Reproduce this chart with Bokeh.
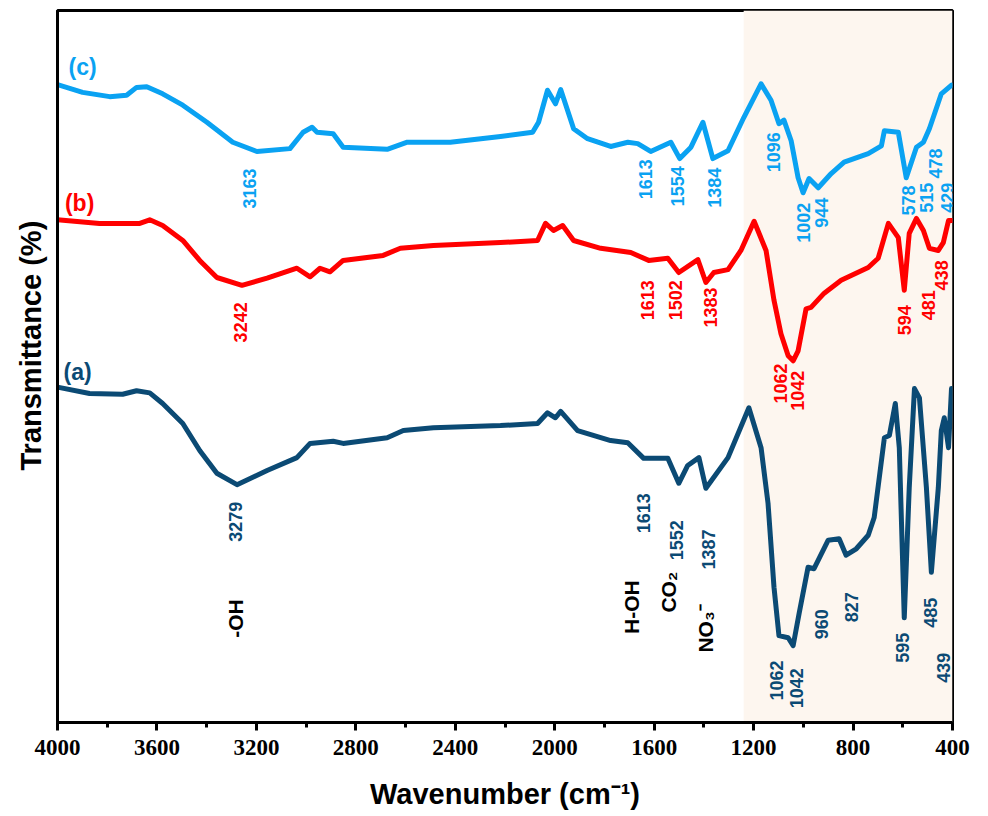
from math import pi
from bokeh.plotting import figure
from bokeh.models import Range1d, SingleIntervalTicker, BoxAnnotation, ColumnDataSource, Title
from bokeh.core.properties import value
from bokeh.embed import file_html
from bokeh.resources import INLINE

# ---------------- data (wavenumber, transmittance a.u.) ----------------
wn_a = [4000, 3871, 3738, 3682, 3629, 3577, 3496, 3428, 3359, 3278, 3157, 3037, 2984, 2891, 2851,
        2674, 2609, 2488, 2218, 2069, 2029, 1997, 1976, 1908, 1775, 1706, 1642, 1545, 1501, 1465,
        1420, 1392, 1303, 1219, 1170, 1142, 1118, 1098, 1061, 1041, 1017, 981, 957, 900, 856,
        828, 787, 739, 715, 674, 654, 630, 614, 594, 574, 553, 533, 505, 485, 457,
        445, 433, 416, 404]
t_a = [47.1, 46.2, 46.1, 46.6, 46.3, 44.8, 42.0, 38.2, 35.0, 33.4, 35.4, 37.2, 39.2, 39.5, 39.2,
       40.0, 41.0, 41.4, 41.7, 42.0, 43.5, 42.8, 43.7, 41.0, 39.6, 39.3, 37.1, 37.1, 33.6, 36.1,
       37.2, 32.9, 37.2, 44.2, 38.6, 30.8, 19.0, 12.2, 11.9, 10.8, 15.3, 21.8, 21.6, 25.6, 25.8,
       23.5, 24.4, 26.3, 28.8, 40.0, 40.3, 44.8, 38.6, 14.7, 33.0, 46.9, 45.6, 33.0, 21.1, 33.0,
       41.0, 42.8, 38.6, 46.9]

wn_b = [4000, 3831, 3669, 3629, 3577, 3496, 3428, 3359, 3258, 3157, 3037, 2984, 2944, 2904, 2851,
        2690, 2621, 2488, 2218, 2069, 2037, 2005, 1968, 1924, 1815, 1694, 1622, 1545, 1501, 1424,
        1392, 1360, 1303, 1251, 1198, 1150, 1118, 1090, 1061, 1041, 1021, 989, 969, 916, 848,
        739, 699, 658, 618, 594, 574, 545, 517, 493, 457, 437, 416, 400]
t_b = [70.6, 70.1, 70.1, 70.6, 69.8, 67.7, 64.9, 62.5, 61.4, 62.4, 63.8, 62.6, 63.8, 63.3, 64.9,
       65.6, 66.6, 67.0, 67.4, 67.7, 70.1, 69.1, 69.8, 67.7, 66.6, 66.0, 64.9, 65.2, 63.2, 65.0,
       61.8, 63.2, 63.6, 66.3, 70.4, 66.3, 59.3, 54.6, 51.5, 50.8, 52.2, 58.1, 58.3, 60.3, 62.1,
       63.9, 65.2, 70.1, 68.1, 60.7, 68.7, 70.8, 69.1, 66.6, 66.3, 67.4, 70.5, 70.5]

wn_c = [4000, 3899, 3790, 3722, 3682, 3641, 3577, 3496, 3399, 3295, 3198, 3065, 3012, 2976, 2956,
        2891, 2851, 2674, 2593, 2420, 2218, 2089, 2065, 2029, 1997, 1976, 1924, 1868, 1775, 1706,
        1666, 1614, 1533, 1497, 1452, 1404, 1364, 1303, 1239, 1170, 1130, 1098, 1078, 1049, 1021,
        1001, 977, 940, 888, 836, 739, 686, 674, 618, 586, 545, 517, 493, 445, 404]
t_c = [89.6, 88.5, 87.9, 88.1, 89.2, 89.3, 88.3, 86.7, 84.3, 81.5, 80.2, 80.6, 82.9, 83.6, 82.9,
       82.7, 80.8, 80.5, 81.5, 81.5, 82.3, 82.9, 84.3, 88.8, 86.9, 88.9, 83.4, 82.0, 80.9, 81.5,
       81.3, 80.2, 81.5, 79.2, 80.8, 84.3, 79.2, 80.3, 85.0, 89.7, 87.4, 84.1, 84.6, 81.7, 76.5,
       74.4, 76.4, 75.1, 77.1, 78.7, 79.9, 81.0, 83.1, 82.9, 76.5, 80.8, 81.5, 83.4, 88.3, 89.5]

# peak labels
lab_a = ["3279", "1613", "1552", "1387", "1062", "1042", "960", "827", "595", "485", "439"]
lab_a_x = [3286, 1642, 1509, 1380, 1106, 1029, 928, 807, 602, 489, 437]
lab_a_y = [28.2, 29.4, 25.6, 24.3, 5.9, 4.8, 13.8, 16.2, 10.5, 15.4, 7.7]

lab_b = ["3242", "1613", "1502", "1383", "1062", "1042", "594", "481", "438"]
lab_b_x = [3262, 1626, 1513, 1372, 1090, 1025, 594, 497, 445]
lab_b_y = [56.2, 59.3, 59.3, 58.3, 47.6, 46.6, 56.5, 58.6, 62.8]

lab_c = ["3163", "1613", "1554", "1384", "1096", "1002", "944", "578", "515", "478", "429"]
lab_c_x = [3226, 1634, 1505, 1356, 1118, 1001, 928, 578, 505, 469, 420]
lab_c_y = [75.0, 76.3, 75.3, 75.1, 80.1, 70.2, 71.6, 73.3, 73.7, 78.5, 73.7]

grp = ["-OH", "H-OH", "CO\u2082", "NO\u2083\u207b"]
grp_x = [3286, 1690, 1541, 1392]
grp_y = [14.6, 16.2, 18.3, 13.2]

series_names = ["(c)", "(b)", "(a)"]
series_x = [3899, 3911, 3919]
series_y = [92.0, 73.0, 49.2]

shade_from = 1240
shade_to = 400

C_A = "#0b4a74"
C_B = "#ff0000"
C_C = "#0aa2f2"

# ---------------- figure ----------------
p = figure(width=988, height=816, x_range=Range1d(4000, 400), y_range=Range1d(0, 100),
           output_backend="svg", toolbar_location=None,
           min_border_left=57, min_border_right=36, min_border_top=10, min_border_bottom=94)
p.background_fill_color = "white"
p.border_fill_color = "white"
p.xgrid.visible = False
p.ygrid.visible = False
p.outline_line_color = "black"
p.outline_line_width = 3
p.outline_line_alpha = 1

p.add_layout(BoxAnnotation(left=shade_to, right=shade_from, fill_color="#fdf6ef",
                           fill_alpha=1, line_color=None, level="underlay"))

for xs, ys, col in [(wn_a, t_a, C_A), (wn_b, t_b, C_B), (wn_c, t_c, C_C)]:
    p.line(xs, ys, line_color=col, line_width=5, line_join="round", line_cap="round")

FONT = value("Liberation Sans")

def rot_labels(txt, xs, ys, col, size):
    src = ColumnDataSource(dict(x=xs, y=ys, t=txt))
    p.text(x="x", y="y", text="t", source=src, angle=pi / 2, text_align="center",
           text_baseline="middle", text_font=FONT, text_font_style="bold",
           text_font_size=size, text_color=col)

rot_labels(lab_a, lab_a_x, lab_a_y, C_A, "18px")
rot_labels(lab_b, lab_b_x, lab_b_y, C_B, "18px")
rot_labels(lab_c, lab_c_x, lab_c_y, C_C, "18px")
rot_labels(grp, grp_x, grp_y, "black", "21px")

p.text(x=series_x, y=series_y, text=series_names, text_align="center", text_baseline="middle",
       text_font=FONT, text_font_style="bold", text_font_size="23px",
       text_color=[C_C, C_B, C_A])

# axes
xa = p.xaxis[0]
xa.ticker = SingleIntervalTicker(interval=400, num_minor_ticks=2)
xa.axis_line_width = 3
xa.major_tick_line_width = 3
xa.minor_tick_line_width = 3
xa.major_tick_out = 8
xa.major_tick_in = 0
xa.minor_tick_out = 5
xa.minor_tick_in = 0
xa.major_label_text_font = "Liberation Sans Narrow"
xa.major_label_text_font_style = "bold"
xa.major_label_text_font_size = "23px"
xa.major_label_text_color = "black"
xa.major_label_standoff = 9
xa.axis_label = "Wavenumber (cm\u207b\u00b9)"
xa.axis_label_text_font = "Liberation Sans"
xa.axis_label_text_font_style = "bold"
xa.axis_label_text_font_size = "29px"
xa.axis_label_text_color = "black"
xa.axis_label_standoff = 20

ya = p.yaxis[0]
ya.axis_line_width = 3
ya.major_tick_line_color = None
ya.minor_tick_line_color = None
ya.major_label_text_font_size = "0px"
ya.major_label_text_color = None

p.add_layout(Title(text="Transmittance (%)", align="left", offset=252, standoff=9,
                   text_font="Liberation Sans", text_font_style="bold",
                   text_font_size="29px", text_color="black"), "left")

open("out.html", "w").write(file_html(p, INLINE))
